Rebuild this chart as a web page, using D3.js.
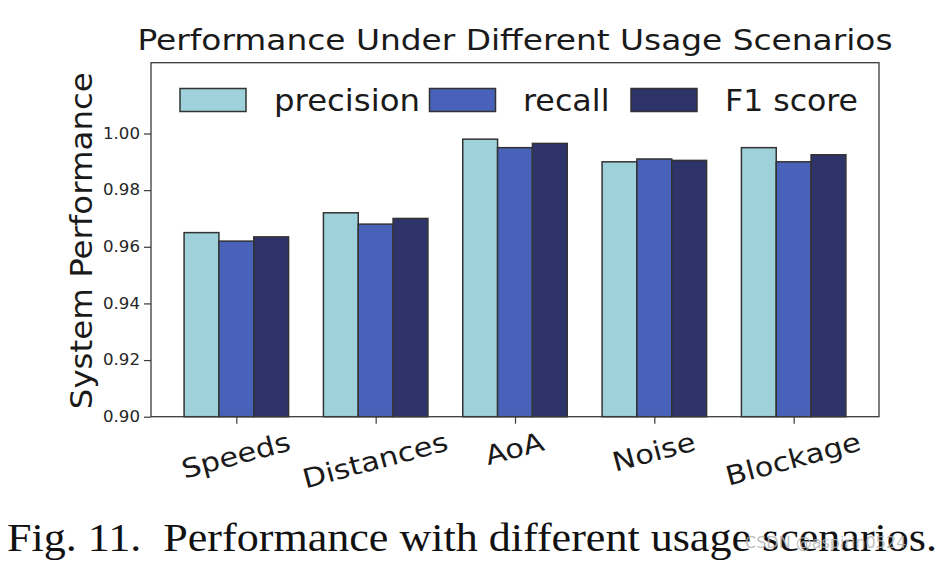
<!DOCTYPE html>
<html><head><meta charset="utf-8">
<script src="https://cdn.jsdelivr.net/npm/d3@7"></script>
<style>body{margin:0;background:#fff} svg{display:block}</style>
</head><body>
<svg id="chart" width="939" height="563"></svg>
<script>
// ---- data ----
const categories = ["Speeds", "Distances", "AoA", "Noise", "Blockage"];
const seriesNames = ["precision", "recall", "F1 score"];
const precision = [0.965, 0.972, 0.998, 0.990, 0.995];
const recall    = [0.962, 0.968, 0.995, 0.991, 0.990];
const f1score   = [0.9635, 0.970, 0.9965, 0.9905, 0.9925];
const yTicks = [0.90, 0.92, 0.94, 0.96, 0.98, 1.00];
const titleText = "Performance Under Different Usage Scenarios";
const yLabelText = "System Performance";
const captionText = "Fig. 11.  Performance with different usage scenarios.";
const watermarkText = "CSDN @aspirin0524";

// ---- styles / layout ----
const colors = ["#9fd1db", "#4762b8", "#2e3469"];
const edge = "#333333";
const FONT = "'DejaVu Sans', sans-serif";
const box = {left: 151, right: 879, top: 62.7, bottom: 416.7};
const barW = 0.25;

const svg = d3.select("#chart");
const series = [precision, recall, f1score];

const x = d3.scaleLinear().domain([-0.6125, 4.6125]).range([box.left, box.right]);
const y = d3.scaleLinear().domain([0.9, 1.025]).range([box.bottom, box.top]);

function fitTo(sel, w) {
  sel.attr("textLength", w).attr("lengthAdjust", "spacingAndGlyphs");
}

// bars
const flat = [];
categories.forEach((c, i) => series.forEach((s, j) => flat.push({i, j, v: s[i]})));
svg.append("g").selectAll("rect").data(flat).join("rect")
  .attr("x", d => x(d.i + (d.j - 1) * barW - barW / 2))
  .attr("width", d => x(barW) - x(0))
  .attr("y", d => y(d.v))
  .attr("height", d => y(0.9) - y(d.v))
  .attr("fill", d => colors[d.j])
  .attr("stroke", edge).attr("stroke-width", 1.5);

// axes box
svg.append("rect")
  .attr("x", box.left).attr("y", box.top)
  .attr("width", box.right - box.left).attr("height", box.bottom - box.top)
  .attr("fill", "none").attr("stroke", "#3a3a3a").attr("stroke-width", 1.3);

// y axis
const yAxis = svg.append("g").attr("transform", `translate(${box.left},0)`)
  .call(d3.axisLeft(y).tickValues(yTicks).tickFormat(d3.format(".2f")).tickSize(7).tickPadding(4).tickSizeOuter(0));
yAxis.select(".domain").remove();
yAxis.selectAll("line").attr("stroke", "#3a3a3a").attr("stroke-width", 1.2);
yAxis.selectAll("text").attr("font-family", FONT).attr("font-size", 15).attr("fill", "#262626");
fitTo(yAxis.selectAll("text"), 37);

// x axis ticks
const xAxis = svg.append("g").attr("transform", `translate(0,${box.bottom})`)
  .call(d3.axisBottom(x).tickValues(d3.range(categories.length)).tickFormat("").tickSize(7).tickSizeOuter(0));
xAxis.select(".domain").remove();
xAxis.selectAll("line").attr("stroke", "#3a3a3a").attr("stroke-width", 1.2);

// category labels rotated 15deg
const catFs = 26.5, catStretch = 1.15, rad = 15 * Math.PI / 180;
categories.forEach((c, i) => {
  const g = svg.append("g");
  const t = g.append("text").text(c)
    .attr("font-family", FONT).attr("font-size", catFs).attr("fill", "#1a1a1a")
    .attr("text-anchor", "middle").attr("y", 0.27 * catFs);
  const L = t.node().getComputedTextLength() * catStretch;
  fitTo(t, L);
  const h = L * Math.sin(rad) + 1.17 * catFs * Math.cos(rad);
  const cy = 428 + h / 2;
  g.attr("transform", `translate(${x(i)},${cy}) rotate(-15)`);
});

// title
const title = svg.append("text").text(titleText)
  .attr("x", (box.left + box.right) / 2).attr("y", 50)
  .attr("text-anchor", "middle").attr("font-family", FONT).attr("font-size", 29).attr("fill", "#1a1a1a");
fitTo(title, 755);

// y label
const yl = svg.append("text").text(yLabelText)
  .attr("transform", `translate(92,${(box.top + box.bottom) / 2 + 1}) rotate(-90)`)
  .attr("text-anchor", "middle").attr("font-family", FONT).attr("font-size", 31).attr("fill", "#1a1a1a");
fitTo(yl, 337);

// legend
const legendItems = [
  {patchX: 180, textX: 274, textW: 146},
  {patchX: 429.5, textX: 523, textW: 86.5},
  {patchX: 631, textX: 725, textW: 133}
];
const lg = svg.append("g");
seriesNames.forEach((name, j) => {
  const it = legendItems[j];
  lg.append("rect").attr("x", it.patchX).attr("y", 88.5).attr("width", 66).attr("height", 23)
    .attr("fill", colors[j]).attr("stroke", edge).attr("stroke-width", 1.5);
  const t = lg.append("text").text(name).attr("x", it.textX).attr("y", 111)
    .attr("font-family", FONT).attr("font-size", 30).attr("fill", "#1a1a1a");
  fitTo(t, it.textW);
});

// caption
const cap = svg.append("text").text(captionText)
  .attr("x", 7).attr("y", 551).style("white-space", "pre")
  .attr("font-family", "'Liberation Serif', 'Times New Roman', serif").attr("font-size", 40).attr("fill", "#111");
fitTo(cap, 930);

// watermark (overlaps caption as in the reference)
svg.append("text").text(watermarkText)
  .attr("x", 745).attr("y", 548)
  .attr("font-family", FONT).attr("font-size", 16).attr("fill", "#b5b5b5").attr("fill-opacity", 0.85);
</script>
</body></html>
